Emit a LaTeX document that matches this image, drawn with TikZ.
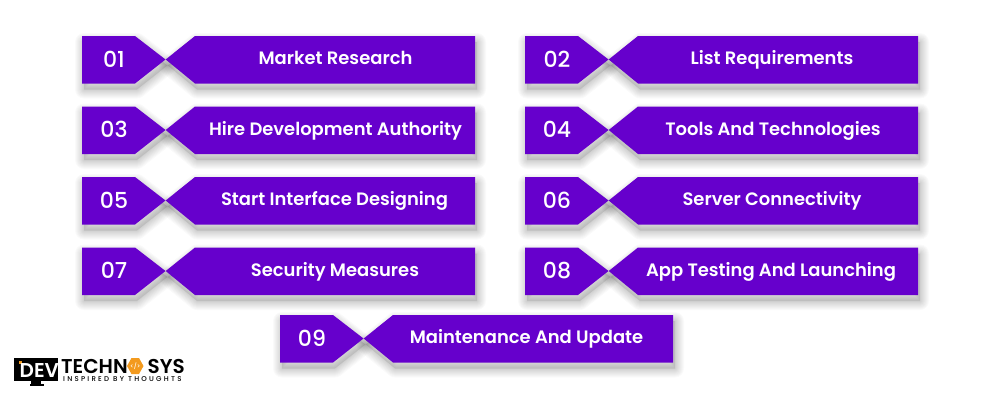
\documentclass[tikz,border=0pt]{standalone}
\usepackage{fontspec}
\setmainfont{Poppins Medium}
\newfontfamily\hvy{Poppins SemiBold}
\definecolor{chipviolet}{HTML}{6600CC}
\definecolor{logoorange}{HTML}{F39A1E}
\tikzset{
  chiptext/.style={text=white,inner sep=0pt,anchor=base,font=\hvy\fontsize{17.95}{20}\selectfont},
  chipnum/.style={text=white,inner sep=0pt,anchor=base,font=\fontsize{22}{24}\selectfont},
  chipfill/.style={fill=chipviolet,draw=none},
  chipglow/.style={draw=black,draw opacity=0.02,line join=round},
  logotext/.style={inner sep=0pt,anchor=base west,text=black},
}
\newcommand{\chipleft}{(0,0) -- (53,0) -- (83.5,23.5) -- (53,47.5) -- (0,47.5) -- cycle}
\newcommand{\chipright}{(83.7,23.5) -- (113,0) -- (393,0) -- (393,47.5) -- (113,47.5) -- cycle}
\newcommand{\chip}[6]{%
  \begin{scope}[shift={(#2,#3)}]
    \begin{scope}[shift={(2,6)}]
      \fill[black,fill opacity=0.09] \chipleft;
      \fill[black,fill opacity=0.09] \chipright;
      \foreach \r in {18,16,...,2}{
        \draw[chipglow,line width=\r pt] \chipleft;
        \draw[chipglow,line width=\r pt] \chipright;
      }
    \end{scope}
    \fill[chipfill] \chipleft;
    \fill[chipfill] \chipright;
    \node[chipnum] (n#1) at (32,31) {#4};
    \node[chiptext] (t#1) at (#6,28.7) {#5};
  \end{scope}}
\begin{document}
\begin{tikzpicture}[x=1pt,y=-1pt]
\useasboundingbox (0,0) rectangle (1000,400);
\fill[white] (0,0) rectangle (1000,400);
\chip{a}{82}{36}{01}{Market Research}{253.5}
\chip{b}{525}{36}{02}{List Requirements}{247}
\chip{c}{82}{106.5}{03}{Hire Development Authority}{253.5}
\chip{d}{525}{106.5}{04}{Tools And Technologies}{248}
\chip{e}{82}{177}{05}{Start Interface Designing}{252.5}
\chip{f}{525}{177}{06}{Server Connectivity}{247}
\chip{g}{82}{247.5}{07}{Security Measures}{253}
\chip{h}{525}{247.5}{08}{App Testing And Launching}{246}
\chip{i}{280}{315}{09}{Maintenance And Update}{246.5}
% logo
\fill[black] (14,358) rectangle (58,381);
\fill[black] (31,381) rectangle (41,384);
\fill[black] (29.5,384) rectangle (44,385.5);
\fill[logoorange] (19,361) rectangle (22,364);
\node[logotext,text=white,font=\hvy\fontsize{20}{20}\selectfont] (dev) at (19.5,377.5) {DEV};
\node[logotext,font=\hvy\fontsize{20}{22}\selectfont] (tech) at (61,373) {TECHN};
\fill[logoorange] (127,366) -- (131.5,358) -- (139,358) -- (143.5,366) -- (139,374) -- (131.5,374) -- cycle;
\node[inner sep=0pt,text=white,font=\fontsize{6}{7}\selectfont] (hex) at (135.3,366) {</>};
\node[logotext,font=\hvy\fontsize{20}{22}\selectfont] (sys) at (147.5,373) {SYS};
\node[logotext,font=\fontsize{7}{8}\selectfont,text=black] (tag) at (63,381.5) {\addfontfeature{LetterSpace=32}INSPIRED BY THOUGHTS};
\end{tikzpicture}
\end{document}
